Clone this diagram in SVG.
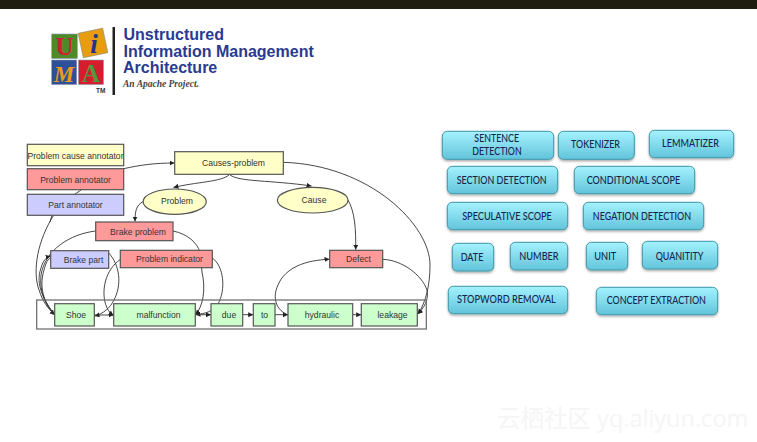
<svg xmlns="http://www.w3.org/2000/svg" width="757" height="442" viewBox="0 0 757 442">
<style>
.n{stroke:#555;stroke-width:1.2}
.y{fill:#ffffc8}.r{fill:#ff9a9a}.b{fill:#ccccff}.g{fill:#ccffcc}
.t{font-family:"Liberation Sans",Arial,sans-serif;font-size:8.6px;fill:#333;text-anchor:middle}
.c{fill:none;stroke:#333;stroke-width:.9;marker-end:url(#a)}
.s{fill:none;stroke:#333;stroke-width:.9}
.btn{fill:url(#bg);stroke:#3f97a8;stroke-width:1;filter:url(#sh)}
.bt{font-family:Lato,"Open Sans",sans-serif;font-size:10.5px;font-weight:500;fill:#12264f;text-anchor:middle}
.lg{font-family:"Liberation Sans",Arial,sans-serif;font-weight:700;font-size:16px;fill:#2a3a92}
.lt{font-family:"Liberation Serif",serif;font-weight:700;text-anchor:middle}
</style>
<defs>
<marker id="a" markerWidth="6" markerHeight="6" refX="5" refY="2.5" orient="auto" markerUnits="userSpaceOnUse"><path d="M0 0L5 2.5L0 5z" fill="#222"/></marker>
<linearGradient id="bg" x1="0" y1="0" x2="0" y2="1"><stop offset="0" stop-color="#a4f2fe"/><stop offset="1" stop-color="#62c4da"/></linearGradient>
<filter id="sh" x="-10%" y="-15%" width="120%" height="140%"><feDropShadow dx="0" dy="1.5" stdDeviation="1.2" flood-color="#000" flood-opacity=".35"/></filter>
</defs>
<rect width="757" height="442" fill="#fff"/>
<rect id="top-bar" width="757" height="9" fill="#1f1c10"/>

<g id="logo">
<rect x="51.7" y="34" width="25.6" height="24.5" fill="#4e8a2a" stroke="#8a9ab0" stroke-width=".6"/>
<text class="lt" x="64.5" y="55" font-size="25" fill="#d02030">U</text>
<rect x="80.5" y="30.5" width="25" height="25" fill="#e89c10" stroke="#8a8a70" stroke-width=".6" transform="rotate(-12 93 43)"/>
<text class="lt" x="94" y="53" font-size="27" fill="#24348c" font-style="italic">i</text>
<rect x="51.7" y="60" width="25" height="24.5" fill="#2f4f98" stroke="#8a9ab0" stroke-width=".6"/>
<text class="lt" x="64" y="81.5" font-size="23" fill="#e89c20" font-style="italic">M</text>
<rect x="78.5" y="60" width="25" height="24.5" fill="#d81c30" stroke="#8a9ab0" stroke-width=".6"/>
<text class="lt" x="91" y="81.5" font-size="25" fill="#4e9a3a">A</text>
<rect x="112.5" y="27" width="2.5" height="68" fill="#222"/>
<text x="96" y="93" font-family="Liberation Sans,sans-serif" font-size="6.5" font-weight="700" fill="#333">TM</text>
<text class="lg" x="123.5" y="40">Unstructured</text>
<text class="lg" x="123.5" y="57">Information Management</text>
<text class="lg" x="123" y="73">Architecture</text>
<text x="123" y="87" font-family="Liberation Serif,serif" font-style="italic" font-weight="700" font-size="9.5" fill="#444">An Apache Project.</text>
</g>

<g id="connectors">
<path class="c" d="M123.7 168.7C140 165 155 163 174.5 163"/>
<path class="s" d="M81 190C70 198 53 205 50 222"/>
<path class="s" d="M53.5 215.5C38 240 32 270 39 290C43 302 48 309 54.7 314"/>
<path class="c" d="M229.5 174.5C222 182 195 182 173.5 187.5"/>
<path class="c" d="M230 175C240 182 270 180 311.5 186"/>
<path class="c" d="M143.3 201.5C136 205 135 212 135 221.5"/>
<path class="c" d="M348 200C355 212 356 230 355.7 249.8"/>
<path class="c" d="M95.7 231C70 234 45 250 41 275C39 292 46 306 54.7 315"/>
<path class="c" d="M54.7 315C44 300 35 285 41 268C43 260 47 257 50.7 256"/>
<path class="s" d="M54.7 315C46 305 38 290 44 270C46 262 48 259 50.7 258"/>
<path class="c" d="M108.7 253C120 265 122 285 114 300C110 308 103 314 94.5 316"/>
<path class="c" d="M120.3 259.5C105 270 102 290 105 302C107 310 110 313 113.5 315.5"/>
<path class="c" d="M173 231C188 234 197 243 200 252L202 272C206 290 203 306 195.5 315"/>
<path class="c" d="M212.3 258C224 266 226 290 218 304C214 311 205 314 195.5 314.5"/>
<path class="c" d="M288 315C276 310 272 298 278 285C285 268 305 260 329.5 259.3"/>
<path class="c" d="M382.7 259.3C402 260 422 275 427 290C429 300 424 308 417.5 314"/>
<path class="c" d="M283.3 162.3C370 165 430 225 430 265C430 285 426 302 418 314"/>
<path class="c" d="M94.3 315H113.5"/>
<path class="c" d="M195.3 314.7H211"/>
<path class="c" d="M242.7 314.7H253.2"/>
<path class="c" d="M275 314.7H288"/>
<path class="c" d="M352.7 314.7H361.2"/>
</g>

<g id="tokens-frame"><rect x="36.7" y="300" width="389.6" height="29" fill="none" stroke="#666" stroke-width="1.2"/></g>
<g id="n-problem-cause-annotator"><rect class="n y" x="27.3" y="144.3" width="96.4" height="21.4"/><text class="t" x="75.5" y="158.5">Problem cause annotator</text></g>
<g id="n-problem-annotator"><rect class="n r" x="27.3" y="168.7" width="96.4" height="21"/><text class="t" x="75.5" y="183">Problem annotator</text></g>
<g id="n-part-annotator"><rect class="n b" x="27.3" y="194.3" width="96.4" height="21"/><text class="t" x="75.5" y="208">Part annotator</text></g>
<g id="n-causes-problem"><rect class="n y" x="174.7" y="151.7" width="108.6" height="22.6"/><text class="t" x="233.5" y="166">Causes-problem</text></g>
<g id="n-problem"><ellipse class="n y" cx="174.7" cy="201.7" rx="31.6" ry="12.7"/><text class="t" x="177" y="204">Problem</text></g>
<g id="n-cause"><ellipse class="n y" cx="312.7" cy="200.2" rx="35.3" ry="12.8"/><text class="t" x="314" y="202.5">Cause</text></g>
<g id="n-brake-problem"><rect class="n r" x="95.7" y="222" width="77.3" height="18.7"/><text class="t" x="138" y="234.5">Brake problem</text></g>
<g id="n-brake-part"><rect class="n b" x="50.7" y="250.7" width="58" height="17.6"/><text class="t" x="83.5" y="262.5">Brake part</text></g>
<g id="n-problem-indicator"><rect class="n r" x="120.3" y="250.3" width="92" height="17.4"/><text class="t" x="169.5" y="262.3">Problem indicator</text></g>
<g id="n-defect"><rect class="n r" x="329.7" y="250.3" width="53" height="17.4"/><text class="t" x="358.5" y="262">Defect</text></g>
<g id="n-shoe"><rect class="n g" x="54.7" y="303.7" width="39.6" height="22.3"/><text class="t" x="76" y="317.5">Shoe</text></g>
<g id="n-malfunction"><rect class="n g" x="113.7" y="303.7" width="81.6" height="22.3"/><text class="t" x="158.5" y="317.5">malfunction</text></g>
<g id="n-due"><rect class="n g" x="211" y="303.7" width="31.7" height="22.3"/><text class="t" x="229" y="317.5">due</text></g>
<g id="n-to"><rect class="n g" x="253.3" y="303.7" width="21.7" height="22.3"/><text class="t" x="264.5" y="317.5">to</text></g>
<g id="n-hydraulic"><rect class="n g" x="288" y="303.7" width="64.7" height="22.3"/><text class="t" x="322" y="317.5">hydraulic</text></g>
<g id="n-leakage"><rect class="n g" x="361.3" y="303.7" width="56" height="22.3"/><text class="t" x="392.5" y="317.5">leakage</text></g>

<g id="b-sentence"><rect class="btn" x="442.3" y="131.3" width="111.4" height="28" rx="5"/><text class="bt" x="496.7" y="142" textLength="44.7" lengthAdjust="spacingAndGlyphs">SENTENCE</text><text class="bt" x="497" y="155" textLength="49.3" lengthAdjust="spacingAndGlyphs">DETECTION</text></g>
<g id="b-tokenizer"><rect class="btn" x="558.3" y="131.3" width="76" height="28" rx="5"/><text class="bt" x="595.5" y="148" textLength="49" lengthAdjust="spacingAndGlyphs">TOKENIZER</text></g>
<g id="b-lemmatizer"><rect class="btn" x="649.3" y="130.3" width="84.4" height="27.4" rx="5"/><text class="bt" x="690.5" y="147" textLength="57" lengthAdjust="spacingAndGlyphs">LEMMATIZER</text></g>
<g id="b-section"><rect class="btn" x="447.3" y="166.3" width="110.4" height="27.4" rx="5"/><text class="bt" x="501.7" y="183.5" textLength="90" lengthAdjust="spacingAndGlyphs">SECTION DETECTION</text></g>
<g id="b-conditional"><rect class="btn" x="574.3" y="166.3" width="120.4" height="27.4" rx="5"/><text class="bt" x="633.5" y="183.5" textLength="93.7" lengthAdjust="spacingAndGlyphs">CONDITIONAL SCOPE</text></g>
<g id="b-speculative"><rect class="btn" x="447.3" y="202.3" width="120.4" height="27.4" rx="5"/><text class="bt" x="507" y="220" textLength="89.7" lengthAdjust="spacingAndGlyphs">SPECULATIVE SCOPE</text></g>
<g id="b-negation"><rect class="btn" x="583.3" y="202.3" width="120.4" height="27.4" rx="5"/><text class="bt" x="642" y="220" textLength="98.3" lengthAdjust="spacingAndGlyphs">NEGATION DETECTION</text></g>
<g id="b-date"><rect class="btn" x="452.3" y="243.3" width="41.4" height="27.7" rx="5"/><text class="bt" x="472" y="260.5" textLength="22.7" lengthAdjust="spacingAndGlyphs">DATE</text></g>
<g id="b-number"><rect class="btn" x="510.3" y="242.3" width="57.4" height="27.7" rx="5"/><text class="bt" x="539" y="259.5" textLength="39.3" lengthAdjust="spacingAndGlyphs">NUMBER</text></g>
<g id="b-unit"><rect class="btn" x="586.3" y="242.3" width="41.4" height="27.7" rx="5"/><text class="bt" x="605.3" y="259.5" textLength="22" lengthAdjust="spacingAndGlyphs">UNIT</text></g>
<g id="b-quanitity"><rect class="btn" x="642.3" y="241.3" width="75.4" height="27.7" rx="5"/><text class="bt" x="679.5" y="259.5" textLength="47.7" lengthAdjust="spacingAndGlyphs">QUANITITY</text></g>
<g id="b-stopword"><rect class="btn" x="448.3" y="286.3" width="119.4" height="27.4" rx="5"/><text class="bt" x="506.3" y="303" textLength="98.7" lengthAdjust="spacingAndGlyphs">STOPWORD REMOVAL</text></g>
<g id="b-concept"><rect class="btn" x="596.3" y="287.3" width="121.4" height="27.4" rx="5"/><text class="bt" x="656.3" y="304" textLength="99.3" lengthAdjust="spacingAndGlyphs">CONCEPT EXTRACTION</text></g>

<text id="watermark" x="497" y="427" font-family="Open Sans,'Noto Sans CJK SC',sans-serif" font-size="23.5" fill="#f5f5f5">云栖社区 yq.aliyun.com</text>
</svg>
